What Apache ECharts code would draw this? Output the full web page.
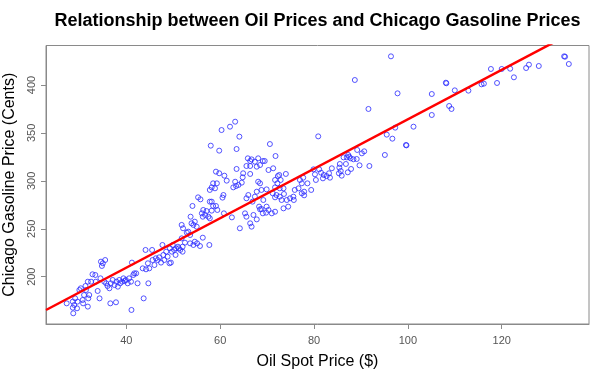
<!DOCTYPE html>
<html>
<head>
<meta charset="utf-8">
<script src="https://cdn.jsdelivr.net/npm/echarts@6/dist/echarts.min.js"></script>
<style>
html,body{margin:0;padding:0;background:#fff;}
#chart{width:614px;height:381px;}
</style>
</head>
<body>
<div id="chart"></div>
<script>
// Oil spot price ($) and Chicago gasoline price (cents)
var oilPrice = [
27.3,28.6,28.6,28.7,28.9,29.1,29.5,29.6,30.0,30.3,30.7,30.8,31.0,31.3,31.4,31.8,31.8,31.9,32.1,32.5,
32.8,33.4,33.5,33.9,34.3,34.5,34.6,34.8,35.0,35.5,35.3,35.7,36.0,36.4,36.6,36.7,37.1,37.5,37.8,37.9,
38.2,38.5,38.7,39.1,39.4,39.7,39.9,40.3,40.6,41.0,41.1,41.2,41.5,41.7,42.1,42.4,43.5,43.7,44.1,44.2,
44.6,44.7,44.9,45.5,45.6,46.0,46.3,46.7,47.0,47.4,47.7,47.9,48.1,48.5,48.8,49.2,49.3,49.5,49.7,49.9,
50.2,50.5,50.6,51.0,51.2,51.5,52.0,
63.2,62.1,60.3,64.1,58.0,59.8,63.5,70.6,71.8,65.9,66.4,66.7,67.4,68.1,69.1,69.5,65.6,66.4,67.8,68.5,
70.3,71.3,63.5,59.1,59.8,60.9,64.9,66.4,64.8,61.4,63.2,62.8,63.4,63.9,64.6,68.1,68.5,68.8,69.9,72.3,
72.6,74.0,72.9,71.7,72.2,71.7,72.7,73.5,71.2,72.0,72.7,73.6,73.1,74.2,74.9,75.6,75.7,75.9,76.7,71.7,
69.2,68.3,68.8,69.9,70.3,69.8,71.0,71.7,69.1,68.5,73.5,74.5,67.8,67.4,66.0,65.6,66.9,65.3,65.6,67.1,
67.8,66.4,66.7,64.2,62.5,60.8,60.7,60.5,59.3,58.5,58.2,58.9,57.8,57.8,58.2,58.5,59.1,59.4,58.2,57.1,
56.8,56.4,56.1,55.3,55.8,54.1,56.3,57.5,57.8,53.7,53.9,54.3,55.0,54.6,51.8,52.1,52.9,53.6,53.2,56.3,
54.6,55.1,57.7,55.7,54.3,53.6,52.5,52.0,51.8,
96.4,88.7,97.8,91.6,80.9,105.1,108.1,108.2,110.0,112.9,115.7,116.2,119.0,117.7,120.0,121.8,122.6,125.2,125.8,127.9,
133.3,133.5,134.3,105.1,108.8,109.3,101.2,97.3,95.5,96.7,99.6,99.7,95.1,91.8,89.7,89.2,90.2,90.7,89.1,88.4,
87.8,87.3,87.5,87.0,86.3,86.8,85.5,87.9,87.2,85.9,85.3,85.4,85.7,83.8,83.2,83.4,82.7,82.1,81.9,81.5,
81.1,80.2,79.9,80.4,79.4,78.6,77.7,77.4,77.0,77.9,77.9,77.4
];
var gasolinePrice = [
172.2,174.0,167.7,161.8,170.5,177.4,167.0,174.0,186.1,187.9,175.7,172.2,180.9,190.3,186.1,194.8,168.8,177.4,180.9,194.8,
202.5,201.8,194.8,185.1,177.4,198.3,215.7,211.2,214.0,217.4,194.8,193.1,190.3,187.9,172.2,193.1,196.6,191.3,173.3,194.8,
189.6,196.6,193.1,194.8,198.3,195.5,196.6,193.1,198.3,194.8,165.3,214.7,201.8,203.5,203.5,193.1,208.7,177.4,227.9,207.7,
214.0,193.1,208.7,227.9,217.4,212.2,219.2,217.4,220.2,214.7,233.1,222.7,217.4,226.1,220.9,214.0,229.6,214.7,226.1,233.1,
227.9,222.7,229.6,231.3,229.6,227.9,226.1,
361.7,356.5,353.0,346.1,336.7,331.5,333.2,338.4,325.9,323.5,320.7,322.4,320.0,323.5,320.7,320.7,315.5,315.5,314.8,316.5,
311.3,313.1,312.4,309.6,307.9,305.4,307.9,307.2,303.7,300.2,299.1,293.2,294.6,295.7,298.1,299.1,297.4,290.5,291.1,305.0,
306.1,307.2,300.9,300.9,297.4,293.2,292.2,292.2,287.0,285.2,283.5,286.3,280.0,280.0,281.8,283.5,280.0,290.5,292.2,282.8,
280.0,273.1,270.6,273.1,269.6,266.8,266.1,267.8,266.1,270.3,271.3,273.1,288.7,283.5,285.2,281.8,278.3,266.1,262.6,264.4,
259.8,255.7,252.2,250.5,261.9,266.1,285.2,282.5,297.4,297.4,293.2,292.2,290.5,278.3,278.3,273.8,273.8,269.6,268.9,268.5,
264.4,269.6,266.1,282.8,280.7,273.8,262.6,262.6,260.9,262.6,255.7,254.0,252.2,257.4,254.0,250.5,245.9,243.5,247.0,240.7,
236.5,234.8,233.1,232.0,233.1,234.8,235.5,231.3,240.0,
429.9,405.2,391.3,375.0,346.4,390.6,402.4,401.8,394.4,394.1,400.7,401.4,402.1,416.7,416.7,417.0,408.0,417.7,421.2,419.8,
429.9,429.5,421.9,368.7,378.1,375.0,356.5,355.5,348.2,344.0,337.4,337.0,327.0,315.5,316.2,332.2,328.7,330.8,322.8,322.5,
323.5,327.0,325.2,324.5,324.5,317.6,317.6,312.4,308.9,305.4,307.9,313.8,310.3,313.1,307.9,303.3,305.0,306.1,302.6,308.5,
312.0,306.8,312.0,300.9,290.5,297.4,303.3,297.4,300.9,288.7,284.9,287.0
];
// Fitted regression line: gasoline = intercept + slope * oil
var fitIntercept = 106.2;
var fitSlope = 2.58;
var xTicks = [40, 60, 80, 100, 120];
var yTicks = [200, 250, 300, 350, 400];
var xRange = [22.89, 138.6];
var yRange = [150.65, 441.2];
var titleText = 'Relationship between Oil Prices and Chicago Gasoline Prices';

var points = oilPrice.map(function (x, i) { return [x, gasolinePrice[i]]; });
var fitLine = xRange.map(function (x) { return [x, fitIntercept + fitSlope * x]; });

var chart = echarts.init(document.getElementById('chart'), null, {renderer: 'canvas'});
var axisGray = '#8a8a8a';
var font = 'Liberation Sans, Arial, sans-serif';
var gridLeft = 46, gridRight = 25;
chart.setOption({
  animation: false,
  backgroundColor: '#ffffff',
  graphic: [{
    type: 'text',
    x: gridLeft + (614 - gridLeft - gridRight) / 2,
    y: 21,
    style: {
      text: titleText,
      textAlign: 'center',
      textVerticalAlign: 'middle',
      fontFamily: font, fontSize: 18, fontWeight: 'bold', fill: '#000'
    }
  }],
  grid: {left: gridLeft, right: gridRight, top: 45.5, bottom: 57, containLabel: false, outerBoundsMode: 'none',
         show: true, borderColor: axisGray, borderWidth: 1, backgroundColor: 'transparent'},
  xAxis: {
    type: 'value', min: xRange[0], max: xRange[1],
    name: 'Oil Spot Price ($)', nameLocation: 'middle', nameGap: 30,
    nameTextStyle: {fontFamily: font, fontSize: 16, color: '#000'},
    axisLine: {show: true, lineStyle: {color: axisGray}},
    axisTick: {show: true, length: 5, customValues: xTicks, lineStyle: {color: axisGray}},
    axisLabel: {customValues: xTicks, margin: 11, fontFamily: font, fontSize: 11, color: '#555'},
    splitLine: {show: false}
  },
  yAxis: {
    type: 'value', min: yRange[0], max: yRange[1],
    name: 'Chicago Gasoline Price (Cents)', nameLocation: 'middle', nameGap: 28,
    nameTextStyle: {fontFamily: font, fontSize: 16, color: '#000'},
    axisLine: {show: true, lineStyle: {color: axisGray}},
    axisTick: {show: true, length: 5, customValues: yTicks, lineStyle: {color: axisGray}},
    axisLabel: {customValues: yTicks, rotate: 90, margin: 9, fontFamily: font, fontSize: 11, color: '#555'},
    splitLine: {show: false}
  },
  series: [
    {
      type: 'scatter',
      data: points,
      symbol: 'circle',
      symbolSize: 5,
      itemStyle: {color: 'rgba(0,0,0,0)', borderColor: '#2a2aff', borderWidth: 1},
      clip: true
    },
    {
      type: 'line',
      data: fitLine,
      symbol: 'none',
      clip: true,
      lineStyle: {color: '#ff0000', width: 2.5}
    }
  ]
});
</script>
</body>
</html>
